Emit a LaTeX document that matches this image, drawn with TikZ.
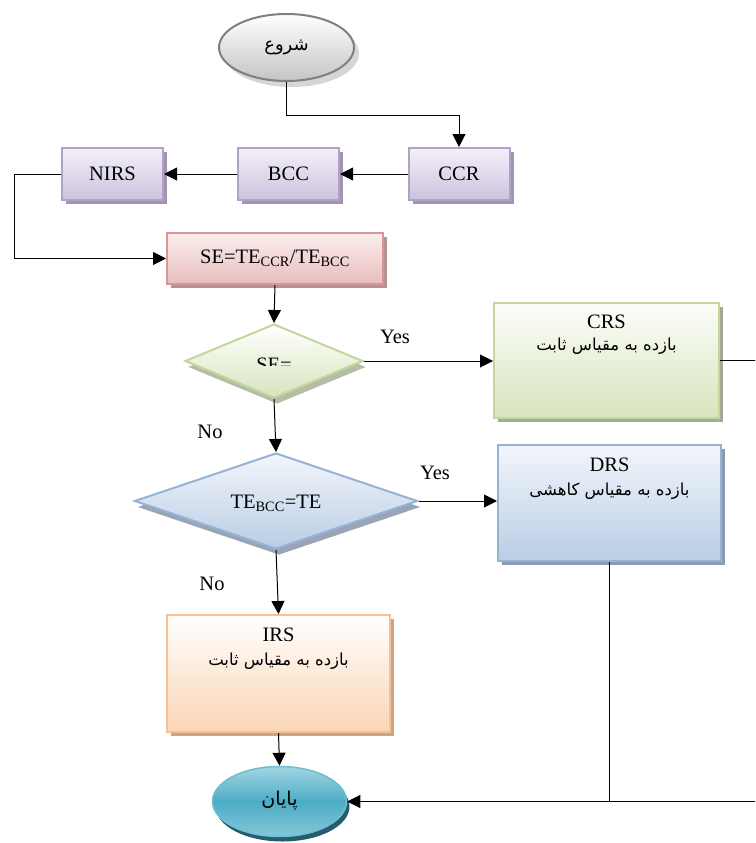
\documentclass[tikz,border=0pt]{standalone}
\usepackage{fontspec}
\setmainfont{Liberation Serif}
\newfontfamily\arabicfont[Script=Arabic]{DejaVu Sans}
\TeXXeTstate=1
\usetikzlibrary{shapes.geometric,shadows,arrows.meta}
\definecolor{purpB}{HTML}{B2A1C7}
\definecolor{purpT}{HTML}{F4F1F9}
\definecolor{purpL}{HTML}{CBC2DE}
\definecolor{purpS}{HTML}{A093B4}
\definecolor{pinkB}{HTML}{D99594}
\definecolor{pinkT}{HTML}{FBEEEE}
\definecolor{pinkL}{HTML}{E8BCBC}
\definecolor{pinkS}{HTML}{B89292}
\definecolor{grnB}{HTML}{C3D69B}
\definecolor{grnT}{HTML}{FCFDF9}
\definecolor{grnL}{HTML}{D7E4BD}
\definecolor{grnS}{HTML}{A2AC94}
\definecolor{bluB}{HTML}{95B3D7}
\definecolor{bluT}{HTML}{F3F6FB}
\definecolor{bluL}{HTML}{B9CDE5}
\definecolor{bluS}{HTML}{8E9BAE}
\definecolor{orgB}{HTML}{FAC090}
\definecolor{orgT}{HTML}{FFFFFF}
\definecolor{orgL}{HTML}{FBD5B5}
\definecolor{orgS}{HTML}{C8A68C}
\definecolor{gryB}{HTML}{7F7F7F}
\definecolor{gryL}{HTML}{C4C4C4}
\definecolor{gryS}{HTML}{D6D6D6}
\definecolor{tealM}{HTML}{4BACC6}
\definecolor{tealT}{HTML}{A3D5E3}
\definecolor{tealL}{HTML}{86C7D9}
\definecolor{tealS}{HTML}{245E6E}
\tikzset{
  every node/.style={font=\fontsize{20.5}{24}\selectfont, inner sep=0pt},
  box/.style={rectangle, line width=2pt},
  shad/.style={drop shadow={shadow xshift=4pt, shadow yshift=-4pt, fill=#1, opacity=1}},
  pbox/.style={box, draw=purpB, top color=purpT, bottom color=purpL, shad=purpS, minimum width=101pt, minimum height=52pt},
  sebox/.style={box, draw=pinkB, top color=pinkT, bottom color=pinkL, shad=pinkS, minimum width=216pt, minimum height=51pt},
  gbox/.style={box, draw=grnB, top color=grnT, bottom color=grnL, shad=grnS},
  bbox/.style={box, draw=bluB, top color=bluT, bottom color=bluL, shad=bluS},
  obox/.style={box, draw=orgB, top color=orgT, bottom color=orgL, shad=orgS},
  dshad/.style={drop shadow={shadow xshift=3pt, shadow yshift=-6pt, fill=#1, opacity=1}},
  conn/.style={draw=black, line width=1pt},
  arr/.style={conn, -{Triangle[length=13pt,width=13pt]}},
  fa/.style={font=\fontsize{16.5}{20}\selectfont\arabicfont}
}
\begin{document}
\begin{tikzpicture}[x=1pt,y=-1pt]
\useasboundingbox (0,0) rectangle (755,843);
\clip (0,0) rectangle (755,843);

% start / end
\node[ellipse, line width=2pt, draw=gryB, top color=white, bottom color=gryL,
      drop shadow={shadow xshift=5pt, shadow yshift=-6pt, fill=gryS, opacity=1},
      minimum width=135pt, minimum height=67pt] (start) at (286.5,47.5) {};
\node[fa, font=\fontsize{18}{20}\selectfont\arabicfont] (startt) at (286.5,47) {\beginR شروع\endR};

\node[ellipse, line width=1.5pt, draw=tealM!80, top color=tealT, bottom color=tealL, middle color=tealM,
      drop shadow={shadow xshift=3pt, shadow yshift=-5pt, fill=tealS, opacity=1},
      minimum width=134pt, minimum height=70pt] (end) at (279.5,801.5) {};
\node[fa, font=\fontsize{19}{20}\selectfont\arabicfont] (endt) at (279.5,801) {\beginR پایان\endR};

% top row
\node[pbox] (ccr) at (459,174) {CCR};
\node[pbox] (bcc) at (288.5,174) {BCC};
\node[pbox] (nirs) at (112.5,174) {NIRS};
\node[sebox] (se) at (275,258.5) {SE=TE\textsubscript{CCR}/TE\textsubscript{BCC}};

% decisions
\node[diamond, line width=2pt, draw=grnB, top color=white, bottom color=grnL, dshad=grnS!80,
      minimum width=178pt, minimum height=74pt] (dec1) at (274,361) {};
\begin{scope}
  \clip (230,350) rectangle (330,365);
  \node[anchor=base] (dec1t) at (274,371.6) {SE=};
\end{scope}
\node[diamond, line width=2pt, draw=bluB, top color=bluT, bottom color=bluL, dshad=bluS!90,
      minimum width=283pt, minimum height=96pt] (dec2) at (276,501) {};
\node (dec2t) at (276,503) {TE\textsubscript{BCC}=TE};

% result boxes
\node[gbox, minimum width=225pt, minimum height=115pt] (crs) at (606.5,360.5) {};
\node (crst) at (606.5,322) {CRS};
\node[fa] (crsf) at (606.5,346) {\beginR بازده به مقیاس ثابت\endR};

\node[bbox, minimum width=223pt, minimum height=116pt] (drs) at (609.5,503) {};
\node (drst) at (609.5,465) {DRS};
\node[fa] (drsf) at (609.5,491) {\beginR بازده به مقیاس کاهشی\endR};

\node[obox, minimum width=223pt, minimum height=117pt] (irs) at (278.5,673.5) {};
\node (irst) at (278.5,635) {IRS};
\node[fa] (irsf) at (278.5,661) {\beginR بازده به مقیاس ثابت\endR};

% labels
\node (yes1) at (395,337) {Yes};
\node (no1) at (210,432) {No};
\node (yes2) at (435,473) {Yes};
\node (no2) at (212,584) {No};

% connectors
\draw[arr] (start.south) -- ++(0,33) -| (ccr.north);
\draw[arr] (ccr.west) -- (bcc.east);
\draw[arr] (bcc.west) -- (nirs.east);
\draw[arr] (nirs.west) -- ++(-47,0) |- (se.west);
\draw[arr] (se.south) -- (dec1.north);
\draw[arr] (dec1.east) -- (dec1.east -| crs.west);
\draw[arr] (dec1.south) -- (dec2.north);
\draw[arr] (dec2.east) -- (dec2.east -| drs.west);
\draw[arr] (dec2.south) -- (irs.north);
\draw[arr] (irs.south) -- (end.north);
\coordinate (rc) at (770,801.5);
\coordinate (jn) at (drs.south |- end.east);
\draw[conn] (crs.east) -| (rc);
\draw[arr] (rc) -- (end.east);
\draw[conn] (drs.south) -- (jn);
\end{tikzpicture}
\end{document}
